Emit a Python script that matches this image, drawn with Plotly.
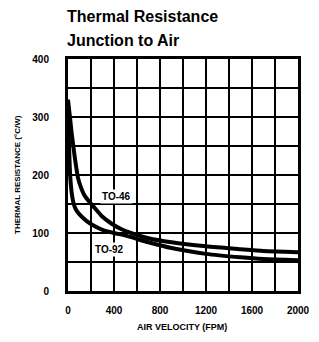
import plotly.graph_objects as go

# Air velocity (FPM) and thermal resistance (°C/W)
to46_x = [0, 8, 17, 30, 46, 65, 87, 110, 140, 180, 220, 300, 380, 470, 565, 700, 900, 1200, 1500, 1700, 2000]
to46_y = [330, 315, 300, 275, 250, 222, 195, 180, 166, 155, 146, 128, 116, 106, 99, 91, 84, 77, 72, 69, 67]
to92_x = [0, 5, 10, 15, 22, 35, 50, 70, 100, 160, 230, 305, 400, 510, 700, 900, 1200, 1500, 1700, 2000]
to92_y = [315, 280, 245, 215, 190, 165, 150, 140, 132, 121, 112, 105, 100, 95, 84, 74, 64, 58, 55, 53]

x_ticks = [0, 400, 800, 1200, 1600, 2000]
y_ticks = [0, 100, 200, 300, 400]

FONT = "Liberation Sans"
OFF = 8  # page body margin
W, H = 319 - OFF, 342 - OFF
# plot area in screen pixels: x 68..298, y 59..291
L, T = 68 - OFF, 59 - OFF
R = W - (298 - OFF)
B = H - (291 - OFF)
PW, PH = W - L - R, H - T - B


def px(xs):
    return (xs - OFF - L) / PW


def py(ys):
    return (H - B - (ys - OFF)) / PH


fig = go.Figure()
for xs, ys, nm in [(to46_x, to46_y, "TO-46"), (to92_x, to92_y, "TO-92")]:
    fig.add_trace(go.Scatter(x=xs, y=ys, mode="lines", name=nm,
                             line=dict(color="black", width=4, shape="spline", smoothing=0.6)))

fig.update_layout(
    width=W, height=H,
    margin=dict(l=L, r=R, t=T, b=B, pad=0),
    paper_bgcolor="white", plot_bgcolor="white",
    showlegend=False,
    annotations=[
        dict(text="<b>Thermal Resistance</b>", x=px(65), y=py(17), xanchor="left", yanchor="middle",
             font=dict(family=FONT, size=16, color="black")),
        dict(text="<b>Junction to Air</b>", x=px(65), y=py(40), xanchor="left", yanchor="middle",
             font=dict(family=FONT, size=16, color="black")),
        dict(text="<b>TO-46</b>", x=426, y=163, xref="x", yref="y", bgcolor="white", borderpad=1,
             font=dict(family=FONT, size=10, color="black")),
        dict(text="<b>TO-92</b>", x=365, y=72, xref="x", yref="y", bgcolor="white", borderpad=1,
             font=dict(family=FONT, size=10, color="black")),
        dict(text="<b>THERMAL RESISTANCE (°C/W)</b>", x=px(17), y=py(175), textangle=-90,
             xanchor="center", yanchor="middle", font=dict(family=FONT, size=8, color="black")),
        dict(text="<b>AIR VELOCITY (FPM)</b>", x=px(182), y=py(327), xanchor="center", yanchor="middle",
             font=dict(family=FONT, size=9, color="black")),
    ],
)
for a in fig.layout.annotations:
    a.showarrow = False
    if a.xref is None:
        a.xref = "paper"
        a.yref = "paper"

fig.update_xaxes(range=[0, 2000], tickvals=x_ticks, showgrid=True, gridcolor="black", gridwidth=2,
                 minor=dict(dtick=200, showgrid=True, gridcolor="black", gridwidth=2),
                 showline=True, linecolor="black", linewidth=3, mirror=True, zeroline=False,
                 ticks="", ticklabelstandoff=8, automargin=False,
                 tickfont=dict(family=FONT, size=10, color="black", weight="bold"), fixedrange=True)
fig.update_yaxes(range=[0, 400], tickvals=y_ticks, showgrid=True, gridcolor="black", gridwidth=2,
                 minor=dict(dtick=50, showgrid=True, gridcolor="black", gridwidth=2),
                 showline=True, linecolor="black", linewidth=3, mirror=True, zeroline=False,
                 ticks="", ticklabelstandoff=14, automargin=False,
                 tickfont=dict(family=FONT, size=10, color="black", weight="bold"), fixedrange=True)

fig.write_html("out.html")
